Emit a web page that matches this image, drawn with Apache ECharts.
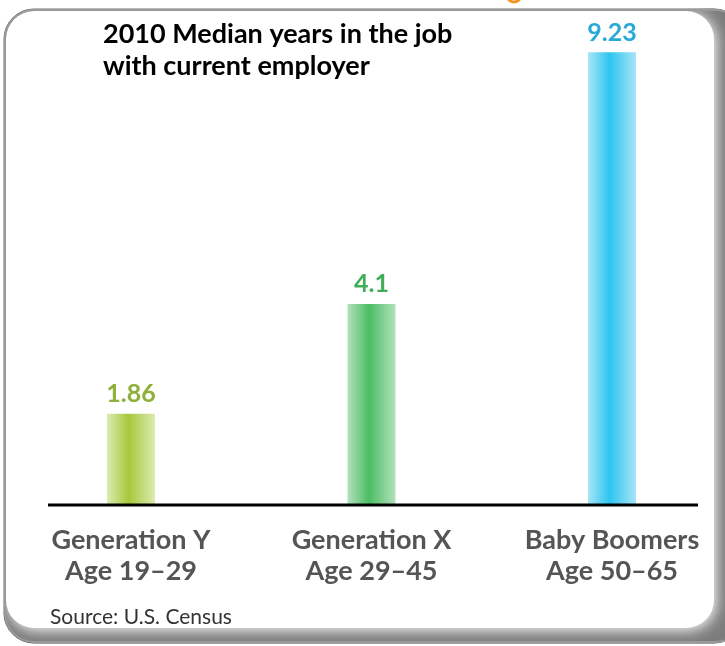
<!DOCTYPE html>
<html>
<head>
<meta charset="utf-8">
<script src="https://cdn.jsdelivr.net/npm/echarts@6/dist/echarts.min.js"></script>
<style>html,body{margin:0;padding:0;background:#fff;}#c{width:725px;height:646px;}</style>
</head>
<body>
<div id="c"></div>
<script>
const categories = ['Generation Y\nAge 19–29', 'Generation X\nAge 29–45', 'Baby Boomers\nAge 50–65'];
const values = [1.86, 4.1, 9.23];
const labelColors = ['#8cb03a', '#3fae58', '#27aad6'];
const barCenters = ['#a6c83a', '#4bbd63', '#2cc5ef'];
const barEdges = ['#dcebb2', '#b4e1bd', '#a8e5f7'];
const titleText = '2010 Median years in the job\nwith current employer';
const sourceText = 'Source: U.S. Census';

const FONT = 'Lato, "Open Sans", sans-serif';
const chart = echarts.init(document.getElementById('c'));

function grad(i) {
  return new echarts.graphic.LinearGradient(0, 0, 1, 0, [
    { offset: 0, color: barEdges[i] },
    { offset: 0.45, color: barCenters[i] },
    { offset: 1, color: barEdges[i] }
  ]);
}

chart.setOption({
  backgroundColor: '#fff',
  animation: false,
  grid: { left: 10.75, width: 721.5, top: 14.5, bottom: 141, outerBoundsMode: 'none', containLabel: false },
  xAxis: {
    type: 'category',
    z: 10,
    data: categories,
    axisLine: { show: false },
    axisTick: { show: false },
    axisLabel: {
      show: true,
      interval: 0,
      hideOverlap: false,
      margin: 20,
      color: '#555',
      fontFamily: FONT,
      fontWeight: 'bold',
      fontSize: 27,
      lineHeight: 31
    }
  },
  yAxis: { type: 'value', min: 0, max: 10, show: false, splitLine: { show: false } },
  series: [{
    type: 'bar',
    barWidth: 48,
    data: values.map((v, i) => ({
      value: v,
      itemStyle: { color: grad(i) },
      label: { color: labelColors[i] }
    })),
    label: {
      show: true,
      position: 'top',
      distance: 7,
      fontFamily: FONT,
      fontWeight: 'bold',
      fontSize: 25
    },
    z: 5
  }],
  graphic: [
    {
      type: 'rect', z: 0, silent: true,
      shape: { x: 4, y: 9, width: 740, height: 634, r: 30 },
      style: { fill: '#7d7d7d', stroke: '#444', lineWidth: 1 }
    },
    {
      type: 'rect', z: 1, silent: true,
      shape: { x: 6, y: 11, width: 708, height: 617, r: 28 },
      style: { fill: '#fff', shadowBlur: 14, shadowColor: 'rgba(255,255,255,1)', shadowOffsetX: 2, shadowOffsetY: 2 }
    },
    {
      type: 'rect', z: 2, silent: true,
      shape: { x: 5, y: 10, width: 740, height: 632, r: 29 },
      style: { fill: 'none', stroke: '#9a9a9a', lineWidth: 2 }
    },
    {
      type: 'circle', z: 2, silent: true,
      shape: { cx: 514, cy: -5, r: 7 },
      style: { fill: 'none', stroke: '#f7941d', lineWidth: 3 }
    },
    {
      type: 'line', z: 6, silent: true,
      shape: { x1: 48, y1: 505, x2: 698, y2: 505 },
      style: { stroke: '#000', lineWidth: 3 }
    },
    {
      type: 'text', z: 6, left: 103, top: 18,
      style: { text: titleText, fill: '#000', font: 'bold 27px ' + FONT, lineHeight: 32 }
    },
    {
      type: 'text', z: 6, left: 50, top: 607,
      style: { text: sourceText, fill: '#333', font: '21px ' + FONT }
    }
  ]
});
</script>
</body>
</html>
